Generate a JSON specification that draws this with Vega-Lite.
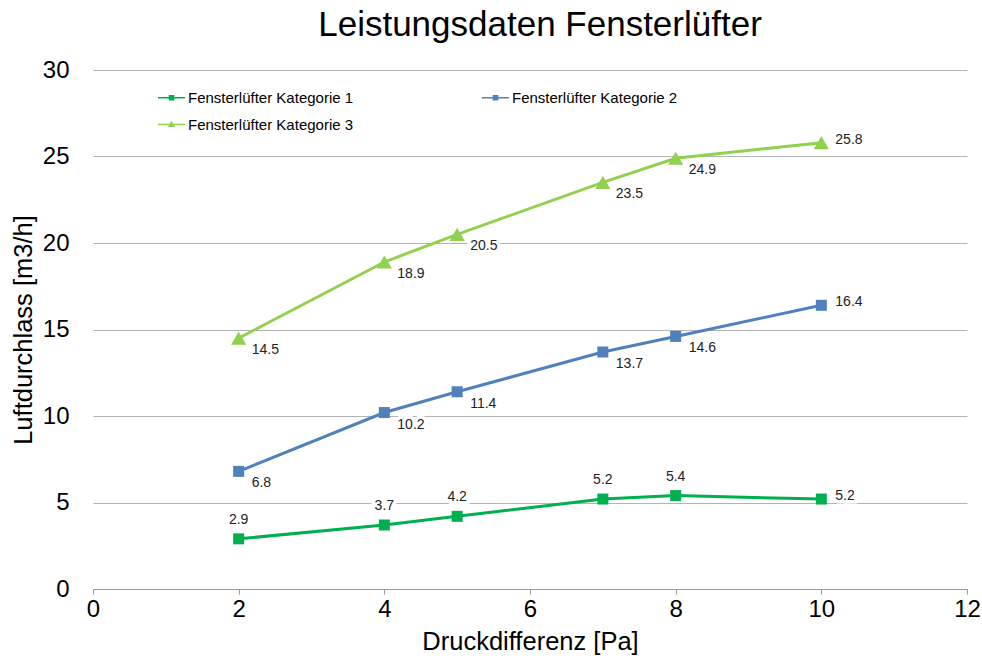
{
  "$schema": "https://vega.github.io/schema/vega-lite/v6.json",
  "width": 874,
  "height": 519,
  "autosize": {"type": "none"},
  "padding": {"left": 93, "top": 70, "right": 15, "bottom": 80},
  "background": "white",
  "title": {"text": "Leistungsdaten Fensterlüfter", "fontSize": 35, "fontWeight": "normal", "font": "Liberation Sans", "color": "#000000", "anchor": "middle", "offset": 15, "dx": 10},
  "config": {
    "font": "Liberation Sans",
    "view": {"stroke": null},
    "axis": {"labelFont": "Liberation Sans", "titleFont": "Liberation Sans", "labelColor": "#000000", "titleColor": "#000000", "titleFontWeight": "normal"}
  },
  "data": {
    "values": [
      {"druck": 2, "wert": 2.9, "serie": "Fensterlüfter Kategorie 1"},
      {"druck": 4, "wert": 3.7, "serie": "Fensterlüfter Kategorie 1"},
      {"druck": 5, "wert": 4.2, "serie": "Fensterlüfter Kategorie 1"},
      {"druck": 7, "wert": 5.2, "serie": "Fensterlüfter Kategorie 1"},
      {"druck": 8, "wert": 5.4, "serie": "Fensterlüfter Kategorie 1"},
      {"druck": 10, "wert": 5.2, "serie": "Fensterlüfter Kategorie 1"},
      {"druck": 2, "wert": 6.8, "serie": "Fensterlüfter Kategorie 2"},
      {"druck": 4, "wert": 10.2, "serie": "Fensterlüfter Kategorie 2"},
      {"druck": 5, "wert": 11.4, "serie": "Fensterlüfter Kategorie 2"},
      {"druck": 7, "wert": 13.7, "serie": "Fensterlüfter Kategorie 2"},
      {"druck": 8, "wert": 14.6, "serie": "Fensterlüfter Kategorie 2"},
      {"druck": 10, "wert": 16.4, "serie": "Fensterlüfter Kategorie 2"},
      {"druck": 2, "wert": 14.5, "serie": "Fensterlüfter Kategorie 3"},
      {"druck": 4, "wert": 18.9, "serie": "Fensterlüfter Kategorie 3"},
      {"druck": 5, "wert": 20.5, "serie": "Fensterlüfter Kategorie 3"},
      {"druck": 7, "wert": 23.5, "serie": "Fensterlüfter Kategorie 3"},
      {"druck": 8, "wert": 24.9, "serie": "Fensterlüfter Kategorie 3"},
      {"druck": 10, "wert": 25.8, "serie": "Fensterlüfter Kategorie 3"}
    ]
  },
  "encoding": {
    "x": {
      "field": "druck", "type": "quantitative",
      "scale": {"domain": [0, 12], "nice": false},
      "axis": {"title": "Druckdifferenz [Pa]", "values": [0, 2, 4, 6, 8, 10, 12], "grid": false, "labelFlush": false, "domainColor": "#999999", "domainWidth": 1, "tickColor": "#999999", "tickSize": 5, "labelFontSize": 24, "labelPadding": 3, "titleFontSize": 25.5, "titlePadding": 8}
    },
    "y": {
      "field": "wert", "type": "quantitative",
      "scale": {"domain": [0, 30], "nice": false},
      "axis": {"title": "Luftdurchlass [m3/h]", "values": [0, 5, 10, 15, 20, 25, 30], "grid": true, "gridColor": "#b3b3b3", "gridWidth": 1, "domain": false, "ticks": false, "labelFlush": false, "labelFontSize": 24, "labelPadding": 24, "titleFontSize": 25.5, "titlePadding": 6}
    }
  },
  "layer": [
    {
      "mark": {"type": "line", "strokeWidth": 3},
      "encoding": {
        "color": {
          "field": "serie", "type": "nominal",
          "scale": {"domain": ["Fensterlüfter Kategorie 1", "Fensterlüfter Kategorie 2", "Fensterlüfter Kategorie 3"], "range": ["#00b050", "#4f81bd", "#92d050"]},
          "legend": {
            "title": null, "orient": "none", "legendX": 65, "legendY": 14, "columns": 2, "direction": "horizontal",
            "columnPadding": 128, "rowPadding": 5, "labelFontSize": 15, "labelFont": "Liberation Sans", "labelColor": "#000000", "labelOffset": 3,
            "symbolSize": 729, "symbolStrokeWidth": 0, "labelLimit": 300,
            "encode": {
              "symbols": {"update": {
                "shape": {"signal": "datum.value === 'Fensterlüfter Kategorie 3' ? 'M-1,-0.055H1V0.055H-1Z M0,-0.28L0.27,0.18H-0.27Z' : 'M-1,-0.055H1V0.055H-1Z M-0.21,-0.21H0.21V0.21H-0.21Z'"},
                "fill": {"signal": "datum.value === 'Fensterlüfter Kategorie 1' ? '#00b050' : datum.value === 'Fensterlüfter Kategorie 2' ? '#4f81bd' : '#92d050'"},
                "fillOpacity": {"value": 1},
                "strokeWidth": {"value": 0}
              }}
            }
          }
        }
      }
    },
    {
      "transform": [{"filter": "datum.serie !== 'Fensterlüfter Kategorie 3'"}],
      "mark": {"type": "point", "filled": true, "opacity": 1, "shape": "square", "size": 121},
      "encoding": {
        "color": {"field": "serie", "type": "nominal", "legend": null}
      }
    },
    {
      "transform": [{"filter": "datum.serie === 'Fensterlüfter Kategorie 3'"}],
      "mark": {"type": "point", "filled": true, "opacity": 1, "shape": "triangle-up", "size": 230},
      "encoding": {
        "color": {"field": "serie", "type": "nominal", "legend": null}
      }
    },
    {
      "transform": [{"filter": "datum.serie === 'Fensterlüfter Kategorie 1' && datum.druck < 10"}],
      "layer": [
        {"mark": {"type": "text", "fontSize": 14, "dy": -19, "align": "center", "baseline": "middle", "stroke": "white", "strokeWidth": 7, "fill": "white"}, "encoding": {"text": {"field": "wert", "type": "quantitative", "format": ".1f"}}},
        {"mark": {"type": "text", "fontSize": 14, "dy": -19, "align": "center", "baseline": "middle", "color": "#222222"}, "encoding": {"text": {"field": "wert", "type": "quantitative", "format": ".1f"}}}
      ]
    },
    {
      "transform": [{"filter": "datum.serie !== 'Fensterlüfter Kategorie 1' && datum.druck < 10"}],
      "layer": [
        {"mark": {"type": "text", "fontSize": 14, "dx": 13, "dy": 12, "align": "left", "baseline": "middle", "stroke": "white", "strokeWidth": 7, "fill": "white"}, "encoding": {"text": {"field": "wert", "type": "quantitative", "format": ".1f"}}},
        {"mark": {"type": "text", "fontSize": 14, "dx": 13, "dy": 12, "align": "left", "baseline": "middle", "color": "#222222"}, "encoding": {"text": {"field": "wert", "type": "quantitative", "format": ".1f"}}}
      ]
    },
    {
      "transform": [{"filter": "datum.druck === 10"}],
      "layer": [
        {"mark": {"type": "text", "fontSize": 14, "dx": 14, "dy": -3, "align": "left", "baseline": "middle", "stroke": "white", "strokeWidth": 7, "fill": "white"}, "encoding": {"text": {"field": "wert", "type": "quantitative", "format": ".1f"}}},
        {"mark": {"type": "text", "fontSize": 14, "dx": 14, "dy": -3, "align": "left", "baseline": "middle", "color": "#222222"}, "encoding": {"text": {"field": "wert", "type": "quantitative", "format": ".1f"}}}
      ]
    }
  ]
}
